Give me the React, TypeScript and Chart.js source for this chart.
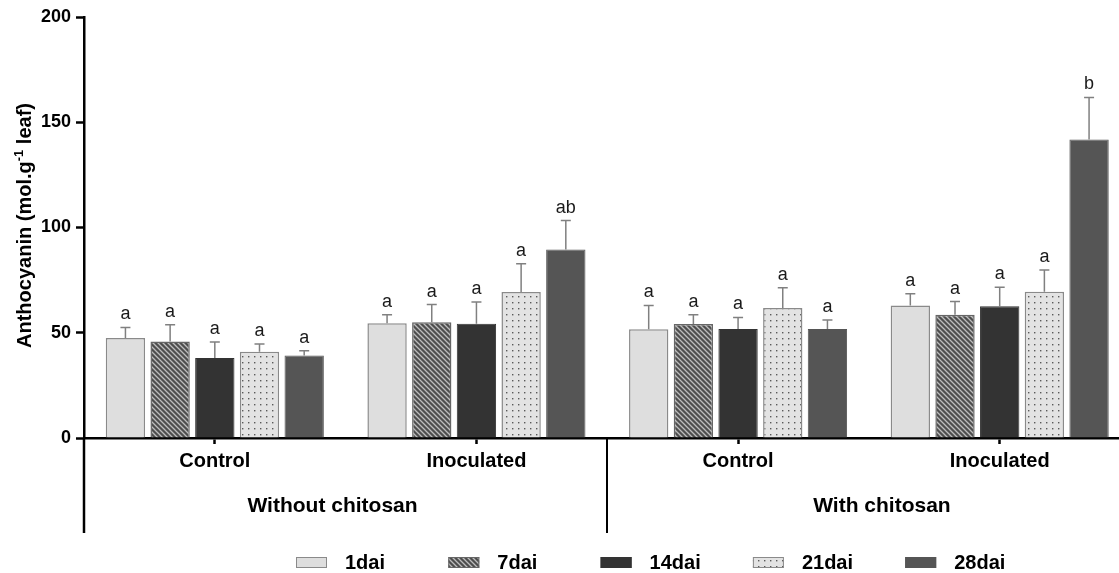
import { useEffect, useRef } from "react";
import { Chart, registerables } from "chart.js";

Chart.register(...registerables);

// Sub-groups along the x axis and the two treatments they belong to
const groups = ["Control", "Inoculated", "Control", "Inoculated"];
const treatments = ["Without chitosan", "With chitosan"];
const treatmentCenters = [0.45, 2.55];
const separatorAt = 1.5;

const seriesNames = ["1dai", "7dai", "14dai", "21dai", "28dai"];

// Mean anthocyanin per sampling day
const dai1 = [47.5, 54.5, 51.7, 63.0];
const dai7 = [45.8, 55.0, 54.2, 58.6];
const dai14 = [38.0, 54.3, 51.8, 62.6];
const dai21 = [41.0, 69.3, 61.8, 69.5];
const dai28 = [39.2, 89.5, 51.8, 141.8];

// Standard errors (upper whisker only)
const err1 = [5.0, 4.0, 11.3, 5.5];
const err7 = [8.0, 8.4, 4.4, 6.2];
const err14 = [7.6, 10.3, 5.5, 9.0];
const err21 = [3.6, 13.5, 9.6, 10.3];
const err28 = [2.2, 13.8, 4.2, 20.0];

// Significance letters
const sig1 = ["a", "a", "a", "a"];
const sig7 = ["a", "a", "a", "a"];
const sig14 = ["a", "a", "a", "a"];
const sig21 = ["a", "a", "a", "a"];
const sig28 = ["a", "ab", "a", "b"];

const yTicks = [0, 50, 100, 150, 200];

const FONT = "'Liberation Sans', Arial, Helvetica, sans-serif";

function makeHatch(): CanvasPattern | string {
  const s = 5;
  const c = document.createElement("canvas");
  c.width = s;
  c.height = s;
  const g = c.getContext("2d");
  if (!g) return "#555";
  g.fillStyle = "#4e4e4e";
  g.fillRect(0, 0, s, s);
  g.strokeStyle = "#bdbdbd";
  g.lineWidth = 1.3;
  g.beginPath();
  g.moveTo(-1, -1);
  g.lineTo(s + 1, s + 1);
  g.moveTo(-1, s - 1);
  g.lineTo(1, s + 1);
  g.moveTo(s - 1, -1);
  g.lineTo(s + 1, 1);
  g.stroke();
  return g.createPattern(c, "repeat") || "#555";
}

function makeDots(): CanvasPattern | string {
  const s = 6;
  const c = document.createElement("canvas");
  c.width = s;
  c.height = s;
  const g = c.getContext("2d");
  if (!g) return "#e0e0e0";
  g.fillStyle = "#e3e3e3";
  g.fillRect(0, 0, s, s);
  g.fillStyle = "#5a5a5a";
  g.fillRect(2, 2, 1.4, 1.4);
  return g.createPattern(c, "repeat") || "#e0e0e0";
}

export default function App() {
  const canvasRef = useRef<HTMLCanvasElement | null>(null);

  useEffect(() => {
    const canvas = canvasRef.current;
    if (!canvas) return;

    const series = [
      { name: seriesNames[0], values: dai1, errors: err1, letters: sig1, fill: "#dedede" as any, border: "#8a8a8a", bw: 1.5 },
      { name: seriesNames[1], values: dai7, errors: err7, letters: sig7, fill: makeHatch(), border: "#666666", bw: 1.5 },
      { name: seriesNames[2], values: dai14, errors: err14, letters: sig14, fill: "#333333", border: "#333333", bw: 1 },
      { name: seriesNames[3], values: dai21, errors: err21, letters: sig21, fill: makeDots(), border: "#8a8a8a", bw: 1.5 },
      { name: seriesNames[4], values: dai28, errors: err28, letters: sig28, fill: "#555555", border: "#555555", bw: 1 },
    ];

    const decorations = {
      id: "decorations",
      afterDatasetsDraw(chart: any) {
        const { ctx } = chart;
        const y = chart.scales.y;
        ctx.save();
        series.forEach((s, di) => {
          const meta = chart.getDatasetMeta(di);
          meta.data.forEach((bar: any, i: number) => {
            const top = y.getPixelForValue(s.values[i]);
            const errTop = y.getPixelForValue(s.values[i] + s.errors[i]);
            ctx.strokeStyle = "#808080";
            ctx.lineWidth = 1.5;
            ctx.beginPath();
            ctx.moveTo(bar.x, top);
            ctx.lineTo(bar.x, errTop);
            ctx.moveTo(bar.x - 5, errTop);
            ctx.lineTo(bar.x + 5, errTop);
            ctx.stroke();
            ctx.fillStyle = "#1a1a1a";
            ctx.font = `18px ${FONT}`;
            ctx.textAlign = "center";
            ctx.textBaseline = "alphabetic";
            ctx.fillText(s.letters[i], bar.x, errTop - 8);
          });
        });
        ctx.restore();
      },
      afterDraw(chart: any) {
        const { ctx, chartArea } = chart;
        const x = chart.scales.x;
        const lowerEnd = chartArea.bottom + 95;
        ctx.save();

        // Group bracket lines below the axis
        ctx.strokeStyle = "#000";
        ctx.lineWidth = 2.5;
        ctx.beginPath();
        ctx.moveTo(chartArea.left, chartArea.bottom);
        ctx.lineTo(chartArea.left, lowerEnd);
        ctx.stroke();
        ctx.lineWidth = 2;
        const sx = Math.round(x.getPixelForValue(separatorAt));
        ctx.beginPath();
        ctx.moveTo(sx, chartArea.bottom);
        ctx.lineTo(sx, lowerEnd);
        ctx.stroke();

        // Treatment names
        ctx.fillStyle = "#000";
        ctx.font = `bold 21px ${FONT}`;
        ctx.textAlign = "center";
        ctx.textBaseline = "alphabetic";
        treatments.forEach((t, i) => {
          ctx.fillText(t, x.getPixelForValue(treatmentCenters[i]), chartArea.bottom + 74);
        });

        // Y-axis title with superscript
        const main = "Anthocyanin (mol.g";
        const sup = "-1";
        const rest = " leaf)";
        const bigFont = `bold 20px ${FONT}`;
        const smallFont = `bold 13px ${FONT}`;
        ctx.font = bigFont;
        const wMain = ctx.measureText(main).width;
        const wRest = ctx.measureText(rest).width;
        ctx.font = smallFont;
        const wSup = ctx.measureText(sup).width;
        const total = wMain + wSup + wRest;
        const cy = (chartArea.top + chartArea.bottom) / 2 - 2;
        ctx.translate(31, cy);
        ctx.rotate(-Math.PI / 2);
        ctx.textAlign = "left";
        ctx.textBaseline = "alphabetic";
        let cx = -total / 2;
        ctx.font = bigFont;
        ctx.fillText(main, cx, 0);
        cx += wMain;
        ctx.font = smallFont;
        ctx.fillText(sup, cx, -8);
        cx += wSup;
        ctx.font = bigFont;
        ctx.fillText(rest, cx, 0);
        ctx.setTransform(1, 0, 0, 1, 0, 0);

        // Legend row
        const legendY = 562.5;
        const start = 296;
        const step = 152.3;
        series.forEach((s, i) => {
          const bx = start + i * step;
          ctx.fillStyle = s.fill;
          ctx.fillRect(bx, legendY - 5.5, 31, 11);
          ctx.strokeStyle = s.border;
          ctx.lineWidth = 1;
          ctx.strokeRect(bx + 0.5, legendY - 5, 30, 10);
          ctx.fillStyle = "#000";
          ctx.font = `bold 20px ${FONT}`;
          ctx.textAlign = "left";
          ctx.textBaseline = "middle";
          ctx.fillText(s.name, bx + 49, legendY + 1);
        });
        ctx.restore();
      },
    };

    const chart = new Chart(canvas, {
      type: "bar",
      data: {
        datasets: series.map((s) => ({
          label: s.name,
          data: s.values.map((v, i) => ({ x: i, y: v })),
          backgroundColor: s.fill,
          borderColor: s.border,
          borderWidth: s.bw,
          categoryPercentage: 0.854,
          barPercentage: 0.88,
        })),
      },
      options: {
        animation: false,
        responsive: true,
        maintainAspectRatio: false,
        layout: { padding: { top: 17, right: 0, bottom: 0, left: 0 } },
        plugins: {
          legend: { display: false },
          tooltip: { enabled: false },
        },
        scales: {
          x: {
            type: "linear",
            min: -0.5,
            max: 3.456,
            offset: false,
            afterBuildTicks: (s: any) => {
              s.ticks = groups.map((_, i) => ({ value: i }));
            },
            afterFit: (s: any) => {
              s.height = 135;
            },
            ticks: {
              callback: (v: any) => groups[v] ?? "",
              font: { family: FONT, size: 20, weight: "bold" },
              color: "#000",
              padding: 5,
              maxRotation: 0,
              autoSkip: false,
            },
            grid: {
              display: true,
              drawOnChartArea: false,
              drawTicks: true,
              tickLength: 6,
              tickWidth: 2.5,
              color: "#000",
              offset: false,
            },
            border: { display: true, color: "#000", width: 2.5 },
          },
          y: {
            min: 0,
            max: 200,
            afterBuildTicks: (s: any) => {
              s.ticks = yTicks.map((v) => ({ value: v }));
            },
            afterFit: (s: any) => {
              s.width = 84;
            },
            ticks: {
              font: { family: FONT, size: 18, weight: "bold" },
              color: "#000",
              padding: 5,
            },
            grid: {
              drawOnChartArea: false,
              drawTicks: true,
              tickLength: 8,
              tickWidth: 2.5,
              color: "#000",
            },
            border: { display: true, color: "#000", width: 2.5 },
          },
        },
      } as any,
      plugins: [decorations],
    });

    return () => chart.destroy();
  }, []);

  return (
    <div style={{ position: "fixed", left: 0, top: 0, width: 1119, height: 573, background: "#fff" }}>
      <canvas ref={canvasRef} />
    </div>
  );
}
